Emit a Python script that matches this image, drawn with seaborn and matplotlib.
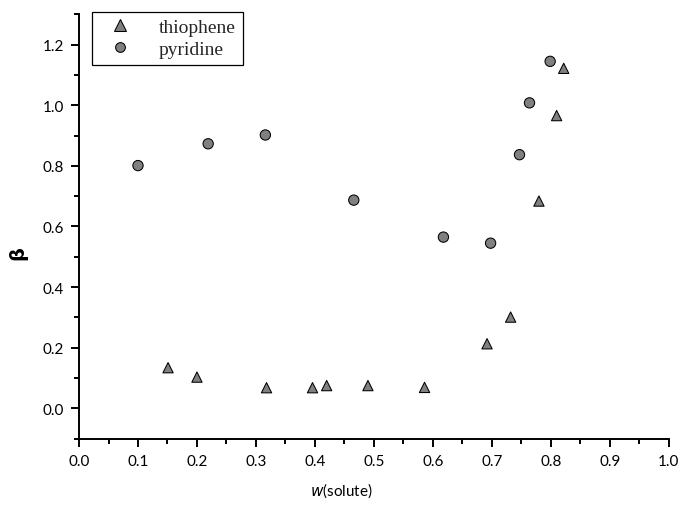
import matplotlib
matplotlib.use("Agg")
import matplotlib.pyplot as plt
from matplotlib.ticker import MultipleLocator
from matplotlib.lines import Line2D
import seaborn as sns
import pandas as pd

# Selectivity beta versus solute mass fraction
thiophene_w = [0.151, 0.200, 0.318, 0.396, 0.420, 0.490, 0.586, 0.692, 0.732, 0.780, 0.810, 0.822]
thiophene_beta = [0.134, 0.103, 0.068, 0.068, 0.075, 0.075, 0.069, 0.213, 0.301, 0.684, 0.966, 1.122]

pyridine_w = [0.100, 0.219, 0.316, 0.466, 0.618, 0.698, 0.747, 0.764, 0.799]
pyridine_beta = [0.801, 0.873, 0.902, 0.687, 0.565, 0.545, 0.837, 1.008, 1.145]

x_ticks = [0.0, 0.1, 0.2, 0.3, 0.4, 0.5, 0.6, 0.7, 0.8, 0.9, 1.0]
y_ticks = [0.0, 0.2, 0.4, 0.6, 0.8, 1.0, 1.2]

df = pd.concat([
    pd.DataFrame({"w": thiophene_w, "beta": thiophene_beta, "solute": "thiophene"}),
    pd.DataFrame({"w": pyridine_w, "beta": pyridine_beta, "solute": "pyridine"}),
], ignore_index=True)

sns.set_theme(style="ticks")
plt.rcParams["font.family"] = ["Lato", "DejaVu Sans"]

fill = "#808080"

fig = plt.figure(figsize=(6.83, 5.06), dpi=100)
ax = fig.add_axes([0.1157, 0.1312, 0.8633, 0.8384])

sns.scatterplot(
    data=df, x="w", y="beta", style="solute",
    markers={"thiophene": "^", "pyridine": "o"},
    hue="solute", palette={"thiophene": fill, "pyridine": fill},
    s=55, edgecolor="black", linewidth=0.75, ax=ax, legend=False,
)

ax.set_xlim(0.0, 1.0)
ax.set_ylim(-0.1, 1.3)
ax.set_xticks(x_ticks)
ax.set_xticklabels([f"{t:.1f}" for t in x_ticks])
ax.set_yticks(y_ticks)
ax.set_yticklabels([f"{t:.1f}" for t in y_ticks])
ax.xaxis.set_minor_locator(MultipleLocator(0.05))
ax.yaxis.set_minor_locator(MultipleLocator(0.1))

for side in ("top", "right"):
    ax.spines[side].set_visible(False)
for side in ("left", "bottom"):
    ax.spines[side].set_linewidth(1.4)
    ax.spines[side].set_color("black")

ax.tick_params(which="major", direction="out", length=6, width=1.4,
               labelsize=11, colors="black", pad=5)
ax.tick_params(which="minor", direction="out", length=3.5, width=1.4, colors="black")

ax.set_xlabel("")
ax.set_ylabel("")
fig.text(0.5, 0.03, r"$\it{w}$(solute)", ha="center", va="center",
         fontsize=11, color="black")
fig.text(0.026, 0.50, "β", ha="center", va="center", rotation=90,
         fontsize=14, fontweight="bold", color="black",
         family=["DejaVu Sans"])

# Legend built from the same marker styles
handles = [
    Line2D([], [], marker="^", linestyle="none", markersize=8,
           markerfacecolor=fill, markeredgecolor="black", markeredgewidth=0.75),
    Line2D([], [], marker="o", linestyle="none", markersize=7,
           markerfacecolor=fill, markeredgecolor="black", markeredgewidth=0.75),
]
leg = ax.legend(handles, ["thiophene", "pyridine"], loc="upper left",
                bbox_to_anchor=(0.022, 1.006), borderaxespad=0.0,
                frameon=True, fancybox=False,
                edgecolor="black", framealpha=1.0, borderpad=0.35,
                handletextpad=0.9, labelspacing=0.22, handlelength=2.2,
                prop={"family": "Liberation Serif", "size": 14})
leg.get_frame().set_linewidth(0.9)

fig.savefig("out.png", dpi=100)
